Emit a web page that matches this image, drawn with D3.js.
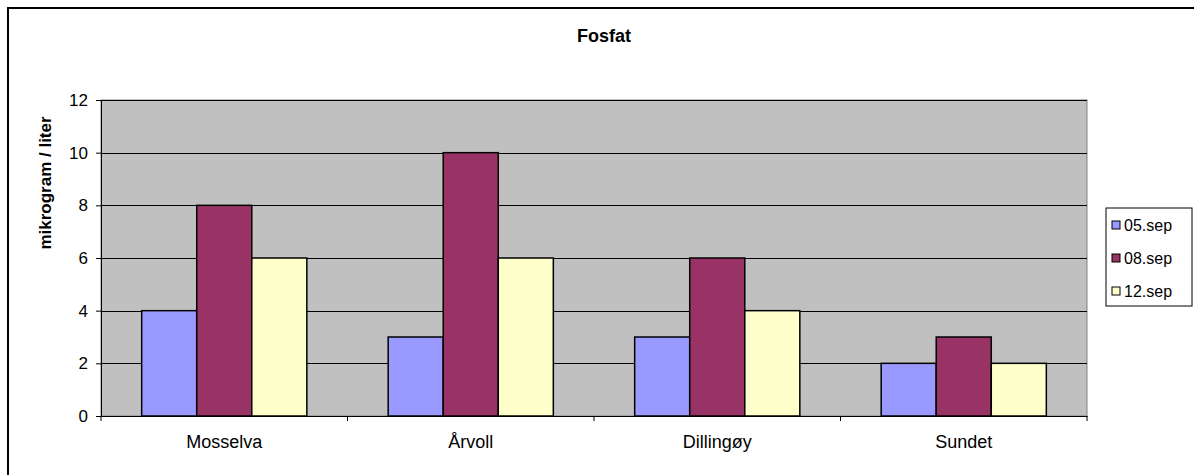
<!DOCTYPE html>
<html>
<head>
<meta charset="utf-8">
<script src="https://cdn.jsdelivr.net/npm/d3@7"></script>
<style>
  body { margin: 0; background: #fff; }
  svg { display: block; font-family: "Liberation Sans", Arial, sans-serif; }
</style>
</head>
<body>
<div id="chart"></div>
<script>
// data
var stations = ["Mosselva", "Årvoll", "Dillingøy", "Sundet"];
var series = ["05.sep", "08.sep", "12.sep"];
var val05 = [4, 3, 3, 2];
var val08 = [8, 10, 6, 3];
var val12 = [6, 6, 4, 2];
var yTicks = [0, 2, 4, 6, 8, 10, 12];
var colors = ["#9999FF", "#993366", "#FFFFCC"];

var seriesValues = [val05, val08, val12];
var data = stations.map(function(s, i) {
    return { group: s, values: series.map(function(k, j) { return { key: k, value: seriesValues[j][i] }; }) };
});

var W = 1194, H = 475;
var margin = { top: 100, right: 107, bottom: 59, left: 101 },
    width = W - margin.left - margin.right,
    height = H - margin.top - margin.bottom;

var root = d3.select("#chart").append("svg")
    .attr("width", W)
    .attr("height", H);

// outer chart border (runs off the right/bottom edges)
root.append("rect")
    .attr("x", 8).attr("y", 8)
    .attr("width", 1300).attr("height", 600)
    .attr("fill", "none")
    .attr("stroke", "#000")
    .attr("stroke-width", 2);

// title
root.append("text")
    .attr("x", 604).attr("y", 42)
    .attr("text-anchor", "middle")
    .style("font-weight", "bold")
    .style("font-size", "18px")
    .text("Fosfat");

var svg = root.append("g")
    .attr("transform", "translate(" + margin.left + "," + margin.top + ")");

var x0 = d3.scaleBand()
    .domain(stations)
    .range([0, width])
    .paddingInner(0.33)
    .paddingOuter(0.165);
var x1 = d3.scaleBand()
    .domain(series)
    .range([0, x0.bandwidth()]);
var y = d3.scaleLinear()
    .domain([0, 12])
    .range([height, 0]);

// plot area
svg.append("rect")
    .attr("width", width).attr("height", height)
    .attr("fill", "#C0C0C0")
    .attr("stroke", "#808080");

// gridlines
svg.append("g")
    .selectAll("line")
    .data(yTicks.filter(function(d) { return d > 0; }))
    .enter().append("line")
    .attr("x1", 0).attr("x2", width)
    .attr("y1", function(d) { return Math.round(y(d)) + 0.5; })
    .attr("y2", function(d) { return Math.round(y(d)) + 0.5; })
    .attr("stroke", "#000")
    .attr("stroke-width", 1);

// bars
var groups = svg.selectAll(".grp")
    .data(data)
    .enter().append("g")
    .attr("transform", function(d) { return "translate(" + x0(d.group) + ",0)"; });

groups.selectAll("rect")
    .data(function(d) { return d.values; })
    .enter().append("rect")
    .attr("x", function(d) { return x1(d.key); })
    .attr("y", function(d) { return y(d.value); })
    .attr("width", x1.bandwidth())
    .attr("height", function(d) { return height - y(d.value); })
    .attr("fill", function(d, i) { return colors[i]; })
    .attr("stroke", "#000")
    .attr("stroke-width", 1.5);

// y axis
var yAxis = svg.append("g")
    .call(d3.axisLeft(y).tickValues(yTicks).tickSize(5).tickPadding(8));
yAxis.select(".domain").attr("stroke", "#000");
yAxis.selectAll("text")
    .style("font-size", "17px")
    .attr("fill", "#000")
    .style("font-family", "Liberation Sans, Arial, sans-serif");

// x axis
var xAxis = svg.append("g")
    .attr("transform", "translate(0," + height + ")")
    .call(d3.axisBottom(x0).tickSize(0).tickPadding(19));
xAxis.select(".domain").attr("stroke", "#000");
xAxis.selectAll("text")
    .style("font-size", "18px")
    .attr("fill", "#000")
    .style("font-family", "Liberation Sans, Arial, sans-serif");

// category boundary ticks
var bounds = [0].concat(stations.map(function(s) { return x0(s) + x0.bandwidth() + x0.step() * x0.paddingInner() / 2; }));
bounds[bounds.length - 1] = width;
svg.append("g").selectAll("line")
    .data(bounds)
    .enter().append("line")
    .attr("x1", function(d) { return d; })
    .attr("x2", function(d) { return d; })
    .attr("y1", height).attr("y2", height + 5)
    .attr("stroke", "#000");

// y label
root.append("text")
    .attr("transform", "translate(51,183) rotate(-90)")
    .attr("text-anchor", "middle")
    .style("font-weight", "bold")
    .style("font-size", "17px")
    .text("mikrogram / liter");

// legend
var legend = root.append("g").attr("transform", "translate(1106,208)");
legend.append("rect")
    .attr("width", 86).attr("height", 98)
    .attr("fill", "#fff")
    .attr("stroke", "#000");
var items = legend.selectAll(".item")
    .data(series)
    .enter().append("g")
    .attr("transform", function(d, i) { return "translate(0," + (17 + i * 33) + ")"; });
items.append("rect")
    .attr("x", 6).attr("y", -4)
    .attr("width", 8).attr("height", 8)
    .attr("fill", function(d, i) { return colors[i]; })
    .attr("stroke", "#000");
items.append("text")
    .attr("x", 18).attr("y", 6)
    .style("font-size", "16px")
    .text(function(d) { return d; });
</script>
</body>
</html>
